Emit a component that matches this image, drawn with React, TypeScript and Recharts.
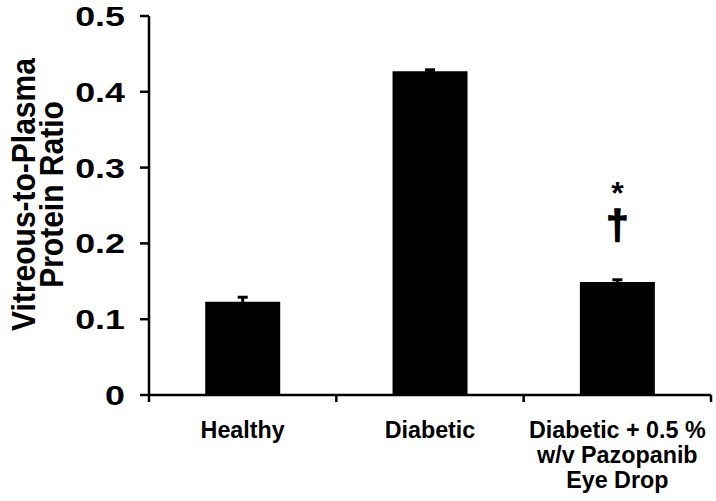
import React from "react";
import { BarChart, Bar, XAxis, YAxis, ErrorBar, LabelList } from "recharts";

const categories = ["Healthy", "Diabetic", "Diabetic + 0.5 % w/v Pazopanib Eye Drop"];
const categoryLines = [["Healthy"], ["Diabetic"], ["Diabetic + 0.5 %", "w/v Pazopanib", "Eye Drop"]];
const ratios = [0.123, 0.427, 0.149];
const errors = [0.006, 0.002, 0.003];
const marksStar = ["", "", "*"];
const marksDagger = ["", "", "\u2020"];
const yTicks = [0, 0.1, 0.2, 0.3, 0.4, 0.5];
const yTitleLines = ["Vitreous-to-Plasma", "Protein Ratio"];

const data = categories.map((c, i) => ({
  name: c,
  ratio: ratios[i],
  err: errors[i],
  star: marksStar[i],
  dagger: marksDagger[i],
}));

const FONT = "'Liberation Sans', Arial, Helvetica, sans-serif";

const CatTick = (props: any) => {
  const { x, y, index, payload } = props;
  const lines = categoryLines[index] || [];
  const half = payload && typeof payload.offset === "number" ? payload.offset : 0;
  return (
    <g>
      <line x1={x + half} x2={x + half} y1={y} y2={y + 7} stroke="#000" strokeWidth={2.5} />
      {index === 0 && (
        <line x1={x - half} x2={x - half} y1={y} y2={y + 7} stroke="#000" strokeWidth={2.5} />
      )}
      {lines.map((l, i) => (
        <text
          key={i}
          x={x}
          y={y + 43 + i * 25}
          textAnchor="middle"
          fontFamily={FONT}
          fontWeight="bold"
          fontSize={23.3}
          fill="#000"
        >
          {l}
        </text>
      ))}
    </g>
  );
};

const YTick = (props: any) => {
  const { x, y, payload } = props;
  const v = payload.value as number;
  const label = v === 0 ? "0" : v.toFixed(1);
  return (
    <text
      transform={`translate(${x}, ${y}) scale(1.28, 1)`}
      x={0}
      y={0}
      dy="0.355em"
      textAnchor="end"
      fontFamily={FONT}
      fontWeight="bold"
      fontSize={28}
      fill="#000"
    >
      {label}
    </text>
  );
};

const YTitle = (props: any) => {
  const vb = props.viewBox || { x: 0, y: 16, width: 149, height: 379 };
  const cy = vb.y + vb.height / 2 - 11;
  return (
    <g>
      {yTitleLines.map((l, i) => {
        const bx = vb.x + 35 + i * 28;
        return (
          <text
            key={i}
            transform={`translate(${bx}, ${cy}) rotate(-90) scale(1, 1.12)`}
            x={0}
            y={0}
            textAnchor="middle"
            fontFamily={FONT}
            fontWeight="bold"
            fontSize={30}
            fill="#000"
          >
            {l}
          </text>
        );
      })}
    </g>
  );
};

const SigLabel = (props: any) => {
  const { x, y, width, index } = props;
  const star = marksStar[index];
  const dagger = marksDagger[index];
  if (!star && !dagger) return null;
  const cx = x + width / 2;
  return (
    <text textAnchor="middle" fontFamily={FONT} fontWeight="bold" fill="#000">
      <tspan x={cx} y={y - 78} fontSize={32}>
        {star}
      </tspan>
      <tspan x={cx} y={y - 43} fontSize={40} stroke="#000" strokeWidth={1.6}>
        {dagger}
      </tspan>
    </text>
  );
};

export default function App() {
  return (
    <div style={{ position: "absolute", left: 0, top: 0, background: "#fff" }}>
      <BarChart
        width={716}
        height={501}
        data={data}
        margin={{ top: 16, right: 5, bottom: 0, left: 0 }}
        barCategoryGap="30%"
      >
        <XAxis
          dataKey="name"
          height={106}
          axisLine={{ stroke: "#000", strokeWidth: 2.5 }}
          tickLine={false}
          tickSize={0}
          tickMargin={0}
          tick={<CatTick />}
          interval={0}
        />
        <YAxis
          width={149}
          domain={[0, 0.5]}
          ticks={yTicks}
          tickSize={9}
          tickMargin={15}
          tick={<YTick />}
          axisLine={{ stroke: "#000", strokeWidth: 2.5 }}
          tickLine={{ stroke: "#000", strokeWidth: 2.5 }}
          label={{ content: (p: any) => <YTitle {...p} /> }}
        />
        <Bar dataKey="ratio" fill="#000" isAnimationActive={false}>
          <ErrorBar dataKey="err" width={5} stroke="#000" strokeWidth={3} direction="y" />
          <LabelList dataKey="star" content={SigLabel} />
        </Bar>
      </BarChart>
    </div>
  );
}
